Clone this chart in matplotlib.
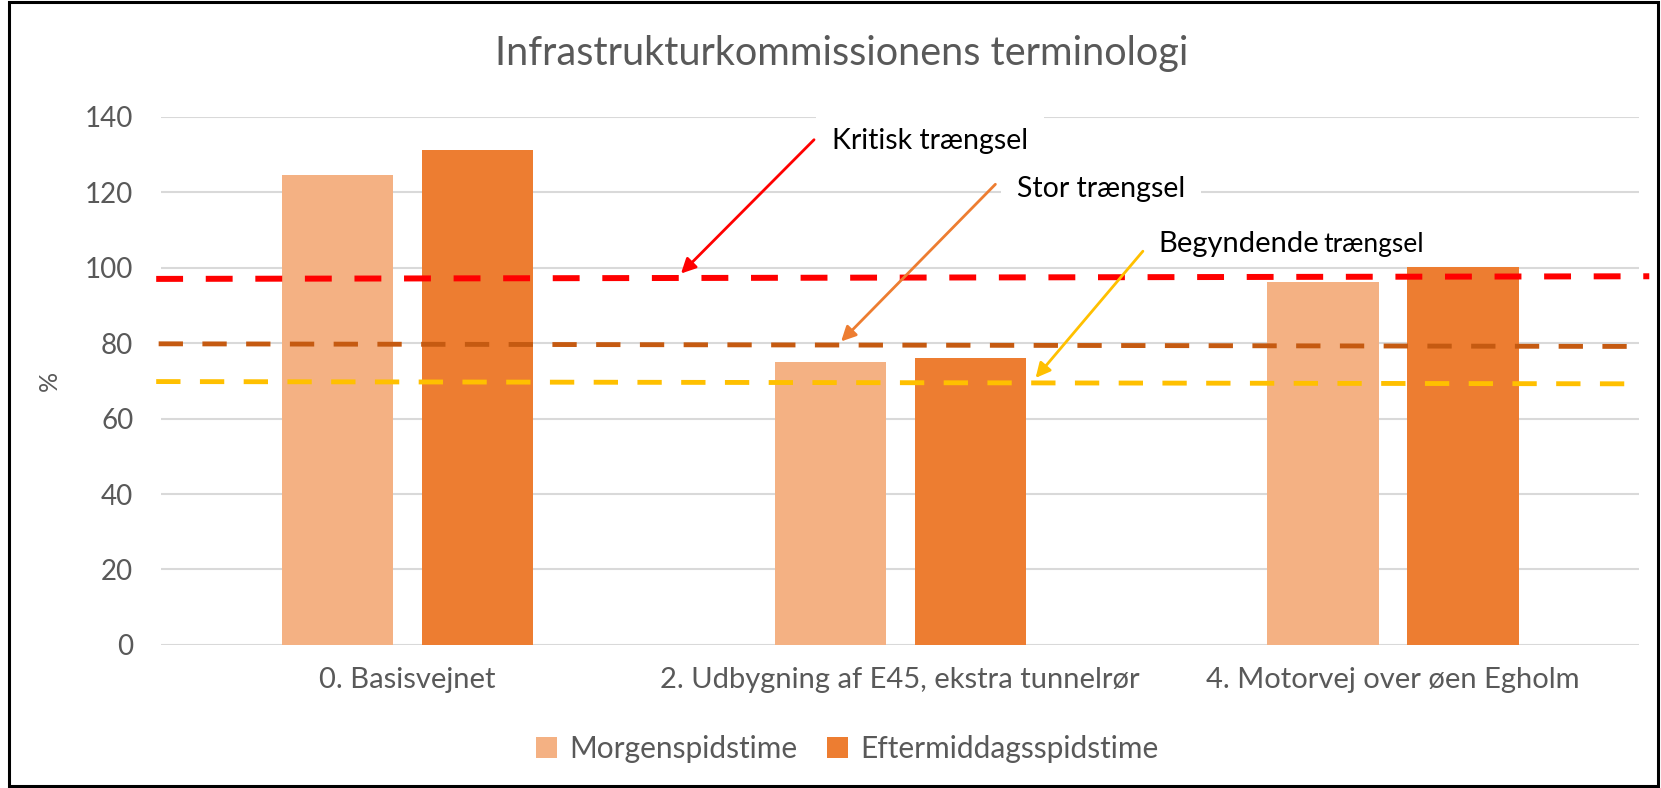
import matplotlib as mpl
import matplotlib.pyplot as plt
import numpy as np
from matplotlib.patches import Rectangle

mpl.use('Agg')
plt.rcParams['font.family'] = ['Lato', 'DejaVu Sans']

# data
kategorier = ["0. Basisvejnet", "2. Udbygning af E45, ekstra tunnelrør", "4. Motorvej over øen Egholm"]
morgen = [124.5, 75.0, 96.2]
eftermiddag = [131.2, 76.0, 100.1]
serier = ["Morgenspidstime", "Eftermiddagsspidstime"]

# tærskellinjer (venstre, højre)
kritisk = [97.0, 97.7]
stor = [79.8, 79.1]
begyndende = [69.8, 69.2]

GRAA = "#595959"

fig = plt.figure(figsize=(16.61, 7.88), dpi=100)
ax = fig.add_axes([0.097, 0.1815, 0.89, 0.6705])

x = np.arange(len(kategorier))
bredde = 0.226
forskyd = 0.142
ax.bar(x - forskyd, morgen, bredde, color="#F4B183", label=serier[0], zorder=2)
ax.bar(x + forskyd, eftermiddag, bredde, color="#ED7D31", label=serier[1], zorder=2)

ax.set_xlim(-0.5, 2.5)
ax.set_ylim(0, 140)
ax.set_yticks(range(0, 141, 20))
ax.set_xticks(x)
ax.set_xticklabels(kategorier)
ax.tick_params(axis='both', length=0, labelsize=21, colors=GRAA)
ax.tick_params(axis='x', pad=16)
ax.tick_params(axis='y', labelsize=20, pad=20)
ax.grid(axis='y', color="#D9D9D9", lw=1.5, zorder=0)
for s in ax.spines.values():
    s.set_visible(False)

ax.set_ylabel("%", fontsize=18, color=GRAA)
ax.yaxis.set_label_coords(-0.068, 0.5)

# stiplede linjer
ax.plot([-0.51, 2.52], kritisk, color="#FF0000", lw=4.3, dashes=(4.5, 3.8), clip_on=False, zorder=3)
ax.plot([-0.505, 2.5], stor, color="#C55A11", lw=3.5, dashes=(5, 4), clip_on=False, zorder=3)
ax.plot([-0.51, 2.475], begyndende, color="#FFC000", lw=3.5, dashes=(5, 4), clip_on=False, zorder=3)

# annoteringer
boks = dict(boxstyle="square,pad=0.55", fc="white", ec="none")
ax.text(0.861, 133.5, "Kritisk trængsel", fontsize=20.5, va='center', ha='left', bbox=boks, zorder=4)
ax.text(1.237, 120.9, "Stor trængsel", fontsize=20.5, va='center', ha='left', bbox=boks, zorder=4)
t_beg = ax.text(1.524, 104.2, "Begyndende", fontsize=21, va='baseline', ha='left', zorder=4)
ax.annotate("trængsel", xy=(1, 0), xycoords=t_beg, xytext=(3, 0), textcoords='offset points',
            fontsize=19, va='bottom', ha='left', zorder=4)

ax.annotate("", xy=(0.551, 97.9), xytext=(0.829, 134.4),
            arrowprops=dict(arrowstyle='-|>', color="#FF0000", lw=2, mutation_scale=22), zorder=5)
ax.annotate("", xy=(0.876, 79.9), xytext=(1.197, 122.6),
            arrowprops=dict(arrowstyle='-|>', color="#ED7D31", lw=2, mutation_scale=22), zorder=5)
ax.annotate("", xy=(1.271, 70.2), xytext=(1.496, 104.9),
            arrowprops=dict(arrowstyle='-|>', color="#FFC000", lw=2, mutation_scale=22), zorder=5)

fig.text(0.507, 0.932, "Infrastrukturkommissionens terminologi", fontsize=28.5, color=GRAA,
         ha='center', va='center')

leg = fig.legend(loc='center', bbox_to_anchor=(0.51, 0.05), ncol=2, frameon=False,
                 fontsize=21.5, handlelength=0.7, handleheight=0.7, handletextpad=0.4,
                 columnspacing=1.0)
for t in leg.get_texts():
    t.set_color(GRAA)

fig.patches.append(Rectangle((0.0057, 0.003), 0.9925, 0.994, transform=fig.transFigure,
                             fill=False, ec="black", lw=2.2))

plt.savefig("out.png", dpi=100)
